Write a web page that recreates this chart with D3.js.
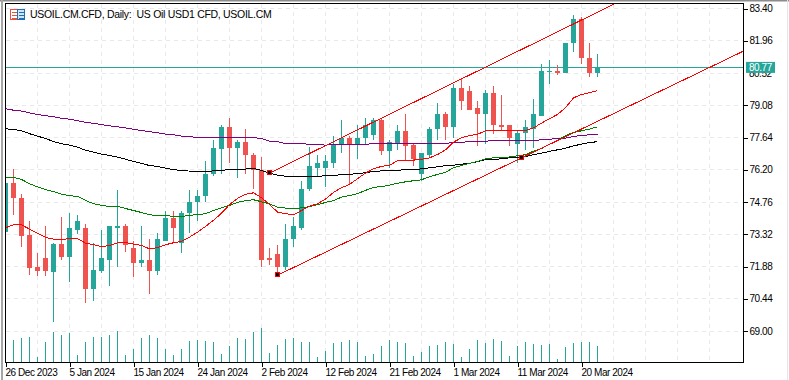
<!DOCTYPE html>
<html>
<head>
<meta charset="utf-8">
<title>USOIL.CM.CFD, Daily</title>
<script src="https://cdn.jsdelivr.net/npm/d3@7"></script>
<style>
html, body { margin: 0; padding: 0; background: #fff; overflow: hidden; }
svg { display: block; }
text { font-family: "Liberation Sans", sans-serif; fill: #000; }
</style>
</head>
<body>
<svg id="chart" width="789" height="380"></svg>
<script>
const title = "USOIL.CM.CFD, Daily:  US Oil USD1 CFD, USOIL.CM";
const lastPrice = 80.77;

const opens = [73.44,75.59,74.96,73.27,71.84,72.24,71.62,72.87,72.29,73.53,73.58,70.86,71.66,72.15,73.62,73.71,72.69,72.02,72.19,71.66,
  73.04,74.03,72.95,74.25,74.74,75.01,75.99,77.11,78.13,77.15,77.46,76.88,76.17,72.24,72.42,71.84,73.09,73.62,75.32,76.30,
  76.30,76.52,77.33,77.60,77.37,77.60,77.73,78.44,77.02,77.33,77.95,77.29,75.99,76.88,78.00,78.71,78.13,79.83,79.70,78.94,
  78.67,79.61,78.22,78.18,77.33,77.82,78.00,78.62,80.59,80.63,80.54,81.84,82.91,81.21,80.54];
const highs = [75.59,76.25,75.10,73.89,72.47,73.67,72.91,74.07,74.25,74.16,73.76,72.95,73.53,73.71,75.28,73.76,73.04,73.67,73.09,73.36,
  74.38,74.34,74.38,75.28,75.28,76.61,77.55,78.18,78.49,77.51,78.00,76.93,76.75,72.69,72.82,73.76,74.11,75.68,77.20,76.84,
  76.84,77.69,78.44,77.69,78.18,78.49,78.49,78.49,77.51,78.22,78.67,77.33,76.93,78.13,79.20,78.80,80.05,80.23,79.92,79.25,
  79.74,79.96,79.52,78.22,77.91,78.40,79.34,80.94,81.08,80.86,81.84,83.09,83.04,81.84,81.35];
const lows = [73.44,74.20,72.77,71.49,71.44,71.44,69.38,72.15,71.17,73.31,70.23,70.32,71.57,71.03,71.84,72.51,71.39,71.84,70.63,71.49,
  73.00,72.95,72.47,73.36,73.89,74.78,75.94,75.99,76.48,75.81,75.99,75.36,71.84,71.93,71.49,71.71,72.77,73.49,75.23,75.90,
  75.45,76.30,76.97,75.54,76.66,77.33,77.55,76.84,76.30,77.06,76.61,76.35,75.72,76.75,77.51,77.51,77.60,78.85,78.85,77.24,
  77.33,77.78,77.91,77.24,76.52,77.06,77.15,78.58,80.05,80.41,80.50,81.44,80.90,80.32,80.32];
const closes = [75.59,74.92,73.22,71.80,71.66,71.66,72.87,72.29,73.58,73.89,70.86,71.71,72.24,73.67,73.71,72.82,72.02,72.19,71.66,73.13,
  74.03,73.58,74.29,74.78,75.05,76.03,77.15,78.09,77.15,77.46,76.84,76.17,72.19,72.19,71.84,73.13,73.67,75.36,76.35,76.52,
  76.57,77.29,77.60,77.37,77.64,78.22,78.44,77.02,77.42,77.95,77.24,76.66,76.93,78.04,78.71,78.13,79.83,79.29,78.89,78.67,
  79.61,78.18,78.13,77.60,77.86,78.09,78.71,80.63,80.63,80.54,81.84,82.91,81.17,80.54,80.77];
const volumes = [30,23,25,26,6,21,31,28,30,8,21,26,26,28,32,8,14,25,28,25,
  14,8,14,22,23,22,21,9,17,25,24,31,35,10,18,24,25,21,21,6,
  12,20,21,23,21,7,9,17,23,21,20,7,11,17,18,21,19,6,14,23,
  20,24,22,7,17,21,19,18,19,4,16,20,21,21,17];

const maRed = [73.61,73.74,73.74,73.55,73.37,73.18,73.10,73.09,73.12,73.13,72.92,72.86,72.76,72.82,72.94,72.95,72.88,72.82,72.67,72.72,
  72.85,72.94,73.00,73.19,73.41,73.67,73.94,74.26,74.64,74.92,75.10,75.17,74.95,74.65,74.31,74.24,74.19,74.38,74.57,74.68,
  74.89,75.19,75.40,75.54,75.80,76.05,76.24,76.35,76.40,76.60,76.61,76.63,76.67,76.73,76.88,77.09,77.43,77.63,77.73,77.78,
  77.94,77.94,77.94,77.95,77.95,77.95,78.07,78.28,78.48,78.67,78.97,79.41,79.56,79.64,79.73];
const maGreen = [75.87,75.86,75.77,75.57,75.44,75.31,75.23,75.11,75.04,75.01,74.83,74.68,74.61,74.56,74.56,74.47,74.38,74.29,74.19,74.15,
  74.16,74.11,74.11,74.17,74.19,74.24,74.38,74.50,74.61,74.74,74.82,74.86,74.77,74.68,74.53,74.49,74.46,74.50,74.55,74.64,
  74.74,74.82,74.98,75.05,75.13,75.28,75.41,75.45,75.51,75.60,75.66,75.71,75.75,75.89,75.99,76.09,76.29,76.39,76.49,76.57,
  76.69,76.73,76.75,76.77,76.82,76.88,77.03,77.15,77.33,77.51,77.73,77.86,77.94,78.01,78.12];
const maPurple = [78.92,78.86,78.82,78.74,78.67,78.61,78.57,78.50,78.46,78.39,78.32,78.27,78.22,78.16,78.12,78.07,78.01,77.95,77.90,77.85,
  77.79,77.76,77.70,77.67,77.65,77.65,77.64,77.63,77.63,77.63,77.63,77.63,77.60,77.48,77.45,77.37,77.36,77.36,77.34,77.32,
  77.30,77.32,77.32,77.32,77.32,77.34,77.36,77.36,77.36,77.36,77.36,77.36,77.36,77.36,77.36,77.37,77.42,77.43,77.45,77.46,
  77.48,77.49,77.49,77.49,77.49,77.49,77.49,77.55,77.57,77.58,77.61,77.69,77.73,77.76,77.76];
const maBlack = [78.03,78.00,77.94,77.81,77.70,77.60,77.46,77.36,77.30,77.21,77.07,76.99,76.90,76.84,76.76,76.67,76.57,76.48,76.39,76.35,
  76.27,76.20,76.17,76.14,76.11,76.11,76.15,76.18,76.20,76.23,76.23,76.26,76.17,76.05,75.96,75.91,75.89,75.89,75.89,75.91,
  75.93,75.95,75.98,76.00,76.02,76.07,76.12,76.15,76.15,76.18,76.20,76.21,76.24,76.29,76.33,76.38,76.40,76.45,76.49,76.56,
  76.65,76.66,76.69,76.73,76.76,76.78,76.88,76.94,77.02,77.09,77.16,77.27,77.34,77.42,77.45];

// 채널 추세선: [bar index, price]
const channelLow = [[34,71.49],[64.5,76.73]];
const channelHigh = [[33,76.05],[76.2,83.62]];

const priceTicks = [83.40,81.96,79.08,77.64,76.20,74.76,73.32,71.88,70.44,69.00];
const hiddenTick = 80.52; // 현재가 라벨 뒤에 일부 가려지는 눈금
const dateTicks = [0,8,16,24,32,40,48,56,64,72];
const dateLabels = ["26 Dec 2023","5 Jan 2024","15 Jan 2024","24 Jan 2024","2 Feb 2024","12 Feb 2024","21 Feb 2024","1 Mar 2024","11 Mar 2024","20 Mar 2024"];
const gridBars = d3.range(0,92,4);

const UP = "#26a69a", DOWN = "#ef5350", GRID = "#e9e9e9";
const margin = {top: 3.5, bottom: 362.5, left: 5.5, right: 743.5};

const svg = d3.select("#chart");

const xScaler = d3.scaleLinear().domain([0,74]).range([5.5,597.5]);
const pScaler = d3.scaleLinear().domain([83.4,69]).range([8.5,331]);
const vScaler = d3.scaleLinear().domain([0,35]).range([362.5,327.5]);

// 창 테두리
svg.append("rect").attr("width",789).attr("height",1.5).attr("fill","#8c8c8c");
svg.append("rect").attr("x",1).attr("width",2).attr("height",380).attr("fill","#a6a6a6");
svg.append("rect").attr("x",787).attr("width",1).attr("height",380).attr("fill","#e6e6e6");

svg.append("clipPath").attr("id","plot")
  .append("rect")
  .attr("x",margin.left).attr("y",margin.top)
  .attr("width",margin.right-margin.left).attr("height",margin.bottom-margin.top);

// 격자
const grid = svg.append("g").attr("stroke",GRID).attr("stroke-dasharray","4,4").attr("shape-rendering","crispEdges");
grid.selectAll("line.v").data(gridBars).join("line").classed("v",true)
  .attr("x1",d=>xScaler(d)).attr("x2",d=>xScaler(d))
  .attr("y1",margin.top).attr("y2",margin.bottom);
grid.selectAll("line.h").data(priceTicks.concat(hiddenTick)).join("line").classed("h",true)
  .attr("x1",margin.left).attr("x2",margin.right)
  .attr("y1",d=>pScaler(d)).attr("y2",d=>pScaler(d));

const plot = svg.append("g").attr("clip-path","url(#plot)").attr("shape-rendering","crispEdges");

// 거래량
plot.selectAll("line.volume").data(volumes).join("line").classed("volume",true)
  .attr("x1",(d,i)=>xScaler(i)).attr("x2",(d,i)=>xScaler(i))
  .attr("y1",d=>vScaler(d)).attr("y2",vScaler(0))
  .attr("stroke",UP);

// 현재가 라인
plot.append("line")
  .attr("x1",margin.left).attr("x2",margin.right)
  .attr("y1",pScaler(lastPrice)).attr("y2",pScaler(lastPrice))
  .attr("stroke",UP);

// 캔들
const slices = plot.selectAll("g.slice").data(closes).join("g").classed("slice",true)
  .attr("fill",(d,i)=>d>=opens[i]?UP:DOWN)
  .attr("stroke",(d,i)=>d>=opens[i]?UP:DOWN);
slices.append("line")
  .attr("x1",(d,i)=>xScaler(i)).attr("x2",(d,i)=>xScaler(i))
  .attr("y1",(d,i)=>pScaler(highs[i])).attr("y2",(d,i)=>pScaler(lows[i]));
slices.append("rect")
  .attr("stroke","none")
  .attr("x",(d,i)=>xScaler(i)-2.5)
  .attr("width",5)
  .attr("y",(d,i)=>pScaler(Math.max(d,opens[i])))
  .attr("height",(d,i)=>Math.max(1,Math.abs(pScaler(d)-pScaler(opens[i]))));

// 이동평균선
const line = d3.line().x((d,i)=>xScaler(i)).y(d=>pScaler(d));
[[maBlack,"#000000"],[maPurple,"#800080"],[maGreen,"#008000"],[maRed,"#ff0000"]].forEach(([values,color])=>{
  plot.append("path").attr("d",line(values)).attr("fill","none").attr("stroke",color);
});

// 채널: 아래선은 오른쪽 끝까지 연장
const tline = d3.line().x(d=>xScaler(d[0])).y(d=>pScaler(d[1]));
const lowSlope = (channelLow[1][1]-channelLow[0][1])/(channelLow[1][0]-channelLow[0][0]);
const lowEnd = [100, channelLow[0][1]+lowSlope*(100-channelLow[0][0])];
plot.append("path").attr("d",tline([channelLow[0],lowEnd])).attr("fill","none").attr("stroke","#ff0000");
plot.append("path").attr("d",tline(channelHigh)).attr("fill","none").attr("stroke","#ff0000");

// 앵커 마커
plot.selectAll("rect.anchor").data([channelLow[0],channelLow[1],channelHigh[0]]).join("rect").classed("anchor",true)
  .attr("x",d=>Math.round(xScaler(d[0])-2)-.5)
  .attr("y",d=>Math.round(pScaler(d[1])-2)-.5)
  .attr("width",4).attr("height",4)
  .attr("fill","#000").attr("stroke","#ff0000");

// 프레임
svg.append("rect")
  .attr("x",margin.left).attr("y",margin.top)
  .attr("width",margin.right-margin.left).attr("height",margin.bottom-margin.top)
  .attr("fill","none").attr("stroke","#000").attr("shape-rendering","crispEdges");

// 현재가 라벨 아래로 살짝 보이는 눈금 글자
svg.append("text").attr("x",749).attr("y",pScaler(hiddenTick)+3.5)
  .style("font-size","10px").style("letter-spacing","-0.5px").text(d3.format(".2f")(hiddenTick));

// Y축
const pAxis = svg.append("g")
  .attr("transform",`translate(${margin.right},0)`)
  .call(d3.axisRight(pScaler).tickValues(priceTicks).tickSize(4).tickPadding(2).tickFormat(d3.format(".2f")));
// X축
const xAxis = svg.append("g")
  .attr("transform",`translate(0,${margin.bottom})`)
  .call(d3.axisBottom(xScaler).tickValues(dateTicks).tickSize(4).tickPadding(2).tickFormat((d,i)=>dateLabels[i]));
[pAxis,xAxis].forEach(a=>{
  a.select(".domain").remove();
  a.attr("font-family",null).attr("font-size",null);
  a.selectAll("line").attr("stroke","#000").attr("shape-rendering","crispEdges");
  a.selectAll("text").attr("fill","#000").style("font-size","10px").style("letter-spacing","-0.45px");
});
xAxis.selectAll("text").attr("text-anchor","start").attr("dx",-0.5);

// 현재가 라벨
svg.append("rect").attr("x",746).attr("y",pScaler(lastPrice)-5.5).attr("width",29).attr("height",11).attr("fill",UP);
svg.append("text").attr("x",749).attr("y",pScaler(lastPrice)+3.5)
  .style("font-size","10px").style("letter-spacing","-0.45px").style("fill","#fff").text(d3.format(".2f")(lastPrice));

// 제목, 아이콘
const icon = svg.append("g").attr("shape-rendering","crispEdges");
icon.append("rect").attr("x",10.5).attr("y",9.5).attr("width",7).attr("height",10).attr("fill","#fff").attr("stroke","#e8503c");
icon.append("rect").attr("x",17.5).attr("y",9.5).attr("width",7).attr("height",10).attr("fill","#cfe6f7").attr("stroke","#1f6fb5");
d3.range(12,20,3).forEach(y=>{
  icon.append("line").attr("x1",12).attr("x2",17).attr("y1",y+.5).attr("y2",y+.5).attr("stroke","#e8503c");
  icon.append("line").attr("x1",19).attr("x2",24).attr("y1",y+.5).attr("y2",y+.5).attr("stroke","#1f6fb5");
});
svg.append("text").attr("x",30).attr("y",18).style("font-size","10.5px").style("letter-spacing","-0.3px").style("white-space","pre").text(title);
</script>
</body>
</html>
